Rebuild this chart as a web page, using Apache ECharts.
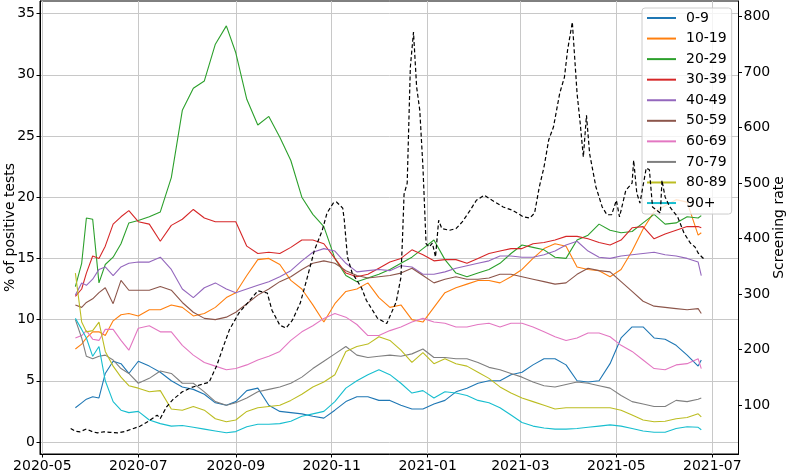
<!DOCTYPE html>
<html><head><meta charset="utf-8">
<script src="https://cdn.jsdelivr.net/npm/echarts@6/dist/echarts.min.js"></script>
<style>html,body{margin:0;padding:0;background:#fff}#c{width:787px;height:471px}</style>
</head><body><div id="c"></div>
<script>
const dates = ['2020-05-22','2020-05-26','2020-05-29','2020-06-02','2020-06-06','2020-06-10','2020-06-15','2020-06-20','2020-06-25',
'2020-07-01','2020-07-08','2020-07-15','2020-07-22','2020-07-29',
'2020-08-05','2020-08-12','2020-08-19','2020-08-26',
'2020-09-01','2020-09-08','2020-09-15','2020-09-22','2020-09-29',
'2020-10-06','2020-10-13','2020-10-20','2020-10-27',
'2020-11-03','2020-11-10','2020-11-17','2020-11-24',
'2020-12-01','2020-12-08','2020-12-15','2020-12-22','2020-12-29',
'2021-01-05','2021-01-12','2021-01-19','2021-01-26',
'2021-02-02','2021-02-09','2021-02-16','2021-02-23',
'2021-03-02','2021-03-09','2021-03-16','2021-03-23','2021-03-30',
'2021-04-06','2021-04-13','2021-04-20','2021-04-27',
'2021-05-04','2021-05-11','2021-05-18','2021-05-25',
'2021-06-01','2021-06-08','2021-06-15','2021-06-22','2021-06-24'];

const age0_9 = [2.8,3.2,3.5,3.7,3.6,5.6,6.6,6.4,5.6,
6.6,6.2,5.7,5.0,4.5,
4.3,3.9,3.2,3.0,
3.3,4.2,4.4,3.0,2.5,
2.4,2.3,2.1,1.95,
2.6,3.3,3.7,3.7,
3.4,3.4,3.0,2.7,2.7,
3.1,3.4,4.1,4.4,
4.8,5.0,5.0,5.5,
5.7,6.3,6.8,6.8,6.3,
5.0,4.9,5.0,6.4,
8.5,9.4,9.4,8.5,
8.4,7.9,7.1,6.2,6.7];

const age10_19 = [7.6,8.0,8.5,9.0,9.0,8.7,9.9,10.4,10.5,
10.3,10.8,10.8,11.2,11.0,
10.3,10.5,11.0,11.8,
12.2,13.6,14.9,15.0,14.5,
13.2,12.5,11.2,9.8,
11.3,12.3,12.5,13.0,
11.8,11.0,11.2,10.0,9.8,
11.0,12.2,12.6,12.9,
13.2,13.2,13.0,13.5,
14.1,15.0,15.8,16.2,16.0,
14.3,14.1,14.0,13.5,
14.1,15.6,17.4,18.8,
19.3,19.8,19.6,16.9,17.1];

const age20_29 = [12.7,14.6,18.3,18.2,13.0,14.5,15.1,16.2,17.9,
18.1,18.4,18.8,21.6,27.1,
28.9,29.5,32.5,34.0,
31.8,28.0,25.9,26.6,24.9,
23.0,20.0,18.6,17.6,
15.0,13.6,13.1,13.4,
13.7,14.1,14.6,15.1,15.8,
16.5,14.9,13.8,13.5,
13.8,14.1,14.6,15.4,
16.1,15.9,15.7,15.1,15.0,
16.5,16.9,17.8,17.3,
17.1,17.2,17.9,18.6,
17.8,17.9,18.4,18.3,18.5];

const age30_39 = [11.9,12.5,13.8,15.2,15.0,16.0,17.8,18.4,18.9,
18.0,17.8,16.4,17.7,18.2,
19.0,18.3,18.0,18.0,
18.0,16.0,15.4,15.5,15.4,
15.9,16.5,16.5,16.2,
15.0,13.8,13.5,13.7,
14.2,14.7,15.0,15.7,15.3,
14.8,14.9,14.9,14.6,
15.0,15.4,15.6,15.8,
15.8,16.2,16.3,16.5,16.8,
16.8,16.6,16.3,16.1,
16.5,17.5,17.6,16.6,
17.0,17.3,17.6,17.6,17.5];

const age40_49 = [12.0,13.0,12.8,13.3,14.1,14.3,13.6,14.3,14.6,
14.7,14.7,15.1,14.1,12.5,
11.8,12.6,13.0,12.5,
12.2,12.5,12.8,13.1,13.5,
14.0,14.8,15.5,15.8,
15.6,14.6,13.9,14.0,
14.1,14.0,14.4,14.3,13.7,
13.7,13.9,14.2,14.4,
14.6,14.8,15.2,15.2,
15.1,15.1,15.3,15.6,16.1,
16.4,15.6,15.1,15.0,
15.2,15.3,15.4,15.5,
15.3,15.2,15.0,14.7,13.6];

const age50_59 = [11.2,11.0,11.4,11.7,12.2,12.6,11.3,13.2,12.4,
12.4,12.4,12.7,12.4,11.4,
10.6,10.1,10.0,10.2,
10.6,11.3,12.0,12.5,13.1,
13.5,14.1,14.6,14.8,
14.6,14.0,13.6,13.4,
13.5,13.6,13.8,14.2,13.6,
13.0,13.3,13.5,13.3,
13.3,13.4,13.7,13.7,
13.5,13.3,13.1,12.9,13.0,
13.7,14.2,14.0,13.9,
13.1,12.3,11.5,11.1,
11.0,10.9,10.8,10.9,10.5];

const age60_69 = [8.5,8.7,9.1,8.4,8.3,9.2,9.2,8.3,7.5,
9.3,9.5,9.0,9.0,7.9,
7.1,6.5,6.2,5.9,
6.0,6.3,6.7,7.0,7.4,
8.3,9.0,9.5,10.1,
10.5,10.2,9.6,8.7,
8.7,9.1,9.4,9.8,10.1,
9.8,9.7,9.4,9.4,
9.6,9.7,9.4,9.7,
9.7,9.4,9.0,8.6,8.3,
8.5,8.9,8.9,8.6,
7.9,7.4,6.7,6.0,
5.9,6.3,6.4,6.8,6.0];

const age70_79 = [10.0,8.5,7.0,6.8,7.0,7.1,6.7,6.0,5.6,
4.8,5.2,5.8,5.6,4.8,
4.8,4.1,3.3,3.0,
3.2,3.6,4.1,4.3,4.5,
4.8,5.3,6.0,6.6,
7.2,7.8,7.1,6.9,
7.0,7.1,7.0,7.2,7.6,
6.9,6.9,6.8,6.8,
6.5,6.1,5.9,5.6,
5.3,4.9,4.6,4.5,4.7,
4.9,4.8,4.6,4.4,
3.8,3.3,3.1,2.9,
2.9,3.4,3.3,3.5,3.6];

const age80_89 = [13.8,9.8,9.0,9.1,9.8,7.4,6.2,5.3,4.6,
4.4,4.1,4.2,2.7,2.6,
2.9,2.6,1.9,1.65,
1.8,2.5,2.8,2.9,3.0,
3.4,3.9,4.5,4.9,
5.5,7.4,7.8,8.0,
8.6,8.3,7.5,6.5,7.3,
6.4,6.8,6.4,6.2,
5.7,5.2,4.5,4.0,
3.6,3.3,3.0,2.7,2.8,
2.8,2.8,2.8,2.8,
2.6,2.2,1.8,1.65,
1.7,1.9,2.0,2.3,2.05];

const age90p = [10.1,9.2,8.5,7.0,7.8,5.0,3.3,2.6,2.4,
2.5,1.8,1.5,1.3,1.35,
1.2,1.05,0.9,0.75,
0.85,1.25,1.45,1.45,1.5,
1.7,2.1,2.3,2.5,
3.3,4.4,5.0,5.5,
5.9,5.5,4.8,4.0,4.2,
3.6,4.1,4.0,3.8,
3.4,3.2,2.8,2.2,
1.6,1.3,1.15,1.05,1.05,
1.1,1.2,1.3,1.4,
1.3,1.1,0.9,0.8,
0.8,1.1,1.25,1.2,1.0];

const seriesNames = ['0-9','10-19','20-29','30-39','40-49','50-59','60-69','70-79','80-89','90+'];
const seriesValues = [age0_9,age10_19,age20_29,age30_39,age40_49,age50_59,age60_69,age70_79,age80_89,age90p];
const seriesColors = ['#1f77b4','#ff7f0e','#2ca02c','#d62728','#9467bd','#8c564b','#e377c2','#7f7f7f','#bcbd22','#17becf'];

const screenDates = ['2020-05-19','2020-05-22','2020-05-25','2020-05-29','2020-06-02','2020-06-05','2020-06-09','2020-06-13','2020-06-18','2020-06-23',
'2020-07-02','2020-07-08','2020-07-13','2020-07-15','2020-07-19','2020-07-23','2020-07-29','2020-08-04','2020-08-11','2020-08-15',
'2020-08-20','2020-08-24','2020-08-28','2020-09-03','2020-09-10','2020-09-15','2020-09-21','2020-09-24','2020-09-29','2020-10-03',
'2020-10-07','2020-10-12','2020-10-16','2020-10-21','2020-10-26','2020-10-29','2020-11-02','2020-11-04','2020-11-08','2020-11-09',
'2020-11-11','2020-11-14','2020-11-17','2020-11-20','2020-11-23','2020-11-30','2020-12-06','2020-12-12','2020-12-15','2020-12-16',
'2020-12-17','2020-12-19','2020-12-21','2020-12-23','2020-12-25','2020-12-27','2020-12-29','2020-12-31','2021-01-02','2021-01-04',
'2021-01-06','2021-01-08','2021-01-10','2021-01-15','2021-01-19','2021-01-23','2021-01-28','2021-02-01','2021-02-06','2021-02-11',
'2021-02-18','2021-02-24','2021-03-03','2021-03-07','2021-03-10','2021-03-13','2021-03-16','2021-03-19','2021-03-22','2021-03-26',
'2021-03-29','2021-03-31','2021-04-03','2021-04-04','2021-04-06','2021-04-08','2021-04-10','2021-04-11','2021-04-12','2021-04-14',
'2021-04-18','2021-04-22','2021-04-25','2021-04-28','2021-05-01','2021-05-03','2021-05-07','2021-05-11','2021-05-12','2021-05-14',
'2021-05-16','2021-05-20','2021-05-22','2021-05-24','2021-05-29','2021-05-30','2021-06-01','2021-06-04','2021-06-09','2021-06-13',
'2021-06-17','2021-06-20','2021-06-22','2021-06-25','2021-06-27'];
const screenRate = [58,53,52,57,52,50,52,51,50,53,
62,72,82,76,97,110,124,132,138,141,
172,205,236,266,289,306,302,271,244,239,
253,284,325,379,415,446,464,466,455,433,
367,338,325,311,289,257,247,286,330,400,
480,500,709,772,673,631,529,391,385,392,
367,433,418,415,418,430,451,469,478,469,
457,451,439,437,446,493,529,578,601,662,
691,740,790,790,662,608,547,545,622,553,
493,457,443,443,469,439,487,500,541,482,
464,527,524,457,446,505,475,457,439,410,
392,385,374,365,365];

const xTickLabels = ['2020-05','2020-07','2020-09','2020-11','2021-01','2021-03','2021-05','2021-07'];
const leftTicks = [0,5,10,15,20,25,30,35];
const rightTicks = [100,200,300,400,500,600,700,800];

const FONT = 'DejaVu Sans';
function ts(s){const p=s.split('-');return new Date(+p[0],+p[1]-1,p[2]?+p[2]:1).getTime();}
const xTickValues = xTickLabels.map(ts);
function fmtMonth(v){const d=new Date(v);const m=d.getMonth()+1;return d.getFullYear()+'-'+(m<10?'0':'')+m;}

const chart = echarts.init(document.getElementById('c'), null, {renderer:'canvas'});
const series = seriesNames.map((n,i)=>({
  name:n, type:'line', yAxisIndex:0, showSymbol:false, symbol:'none',
  data: dates.map((d,j)=>[ts(d), seriesValues[i][j]]),
  lineStyle:{width:1.1, color:seriesColors[i]}, itemStyle:{color:seriesColors[i]},
  z:2
}));
series.push({
  name:'Screening rate', type:'line', yAxisIndex:1, showSymbol:false, symbol:'none',
  data: screenDates.map((d,j)=>[ts(d), screenRate[j]]),
  lineStyle:{width:1.2, color:'#000', type:[4,2.5]}, itemStyle:{color:'#000'},
  z:6
});

chart.setOption({
  animation:false,
  textStyle:{fontFamily:FONT},
  grid:{left:40, right:48.5, top:1, bottom:17, outerBoundsMode:'none', containLabel:false,
        show:true, borderColor:'#000', borderWidth:1, backgroundColor:'transparent'},
  legend:{
    data:seriesNames, orient:'vertical', left:642, top:8,
    padding:[3,5,4,5], itemGap:6.56, itemWidth:29, itemHeight:2, icon:'rect',
    backgroundColor:'rgba(255,255,255,0.8)', borderColor:'#cccccc', borderWidth:1, borderRadius:3,
    textStyle:{fontFamily:FONT, fontSize:14, color:'#000', padding:[0,0,0,5]},
    z:4
  },
  xAxis:{
    type:'value',
    min:new Date(2020,3,29,12).getTime(), max:new Date(2021,6,17,16).getTime(),
    axisLine:{show:true, onZero:false, lineStyle:{color:'#000'}},
    axisTick:{show:true, length:3.5, customValues:xTickValues, lineStyle:{color:'#000'}},
    axisLabel:{customValues:xTickValues, formatter:fmtMonth, fontFamily:FONT, fontSize:14, color:'#000', margin:5, hideOverlap:false},
    splitLine:{show:true, lineStyle:{color:'#c8c8c8', width:1}}
  },
  yAxis:[{
    type:'value', position:'left', min:-0.98, max:36.03,
    name:'% of positive tests', nameLocation:'middle', nameGap:23, nameRotate:90, nameMoveOverlap:false,
    nameTextStyle:{fontFamily:FONT, fontSize:14, color:'#000'},
    axisLine:{show:true, lineStyle:{color:'#000'}},
    axisTick:{show:true, length:3.5, customValues:leftTicks, lineStyle:{color:'#000'}},
    axisLabel:{customValues:leftTicks, fontFamily:FONT, fontSize:14, color:'#000', margin:5},
    splitLine:{show:true, lineStyle:{color:'#c8c8c8', width:1}}
  },{
    type:'value', position:'right', min:12, max:828,
    name:'Screening rate', nameLocation:'middle', nameGap:34, nameRotate:90, nameMoveOverlap:false,
    nameTextStyle:{fontFamily:FONT, fontSize:14, color:'#000'},
    axisLine:{show:true, lineStyle:{color:'#000'}},
    axisTick:{show:true, length:3.5, customValues:rightTicks, lineStyle:{color:'#000'}},
    axisLabel:{customValues:rightTicks, fontFamily:FONT, fontSize:14, color:'#000', margin:5},
    splitLine:{show:false}
  }],
  series:series
});
</script></body></html>
